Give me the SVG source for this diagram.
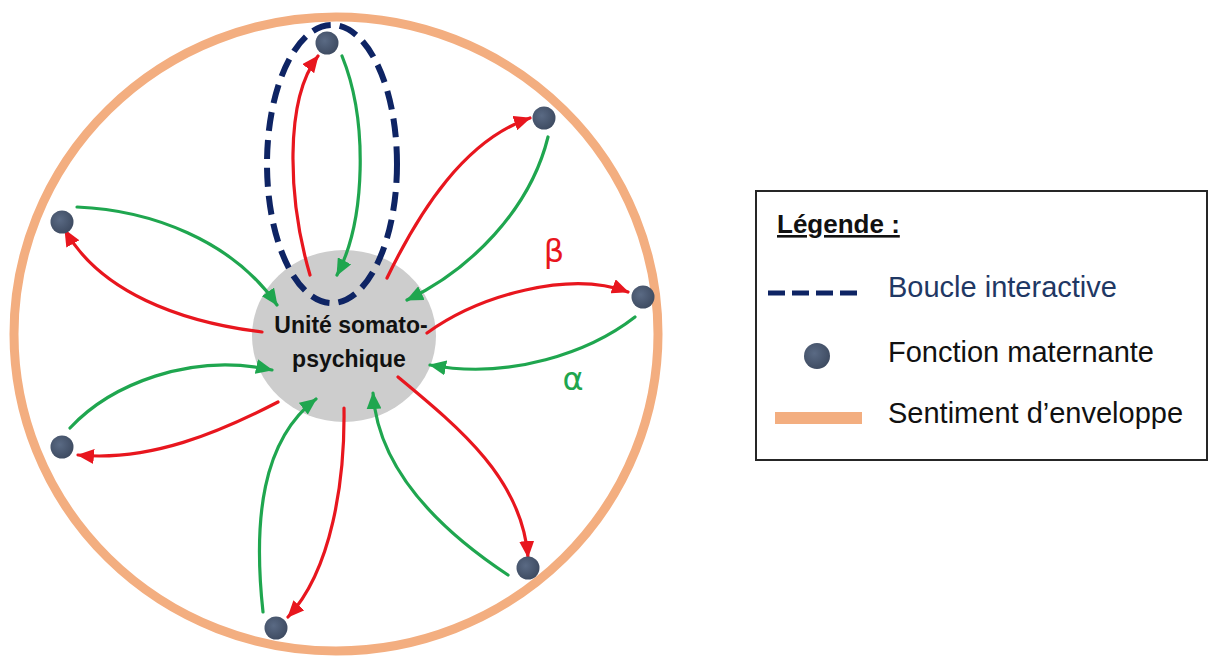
<svg xmlns="http://www.w3.org/2000/svg" width="1209" height="657" viewBox="0 0 1209 657">
  <style>
    .red { fill: none; stroke: #E8161E; stroke-width: 3.2; stroke-linecap: round; marker-end: url(#ahRed); }
    .green { fill: none; stroke: #1FA64F; stroke-width: 3.2; stroke-linecap: round; marker-end: url(#ahGreen); }
    .dot { fill: url(#dotGrad); }
    .lbl { font-family: "Liberation Sans", Arial, sans-serif; font-size: 29px; fill: #111111; }
    .center { font-family: "Liberation Sans", Arial, sans-serif; font-size: 23px; font-weight: bold; fill: #111111; text-anchor: middle; }
  </style>
  <defs>
    <radialGradient id="dotGrad" cx="0.4" cy="0.4" r="0.65">
      <stop offset="0" stop-color="#5A6A84"/>
      <stop offset="1" stop-color="#3D4A60"/>
    </radialGradient>
    <marker id="ahRed" markerUnits="userSpaceOnUse" markerWidth="17" markerHeight="15" refX="16" refY="7.5" orient="auto">
      <path d="M0,0 L17,7.5 L0,15 z" fill="#E8161E"/>
    </marker>
    <marker id="ahGreen" markerUnits="userSpaceOnUse" markerWidth="17" markerHeight="15" refX="16" refY="7.5" orient="auto">
      <path d="M0,0 L17,7.5 L0,15 z" fill="#1FA64F"/>
    </marker>
  </defs>

  <rect x="0" y="0" width="1209" height="657" fill="#FFFFFF"/>

  <g id="envelope">
    <ellipse cx="336" cy="334" rx="322" ry="317" fill="none" stroke="#F3AE80" stroke-width="9"/>
  </g>

  <g id="unite">
    <ellipse cx="344" cy="336" rx="92" ry="86" fill="#CDCDCD"/>
  </g>

  <g id="boucle">
    <ellipse cx="332" cy="164" rx="65" ry="139" fill="none" stroke="#0E2464" stroke-width="6" stroke-dasharray="19 9"/>
  </g>

  <g id="connectors">
    <!-- top -->
    <path class="red" d="M310,275 C288,200 284,100 318,56"/>
    <path class="green" d="M342,56 C368,120 366,220 337,275"/>
    <!-- upper right -->
    <path class="red" d="M387,278 C420,210 465,140 530,118"/>
    <path class="green" d="M548,137 C530,210 470,270 407,300"/>
    <!-- right -->
    <path class="red" d="M427,333 C480,295 570,270 628,292"/>
    <path class="green" d="M635,317 C590,352 510,380 430,365"/>
    <!-- lower right -->
    <path class="red" d="M398,377 C462,430 522,480 528,557"/>
    <path class="green" d="M508,575 C440,530 378,470 373,393"/>
    <!-- bottom -->
    <path class="red" d="M344,408 C345,480 332,570 288,617"/>
    <path class="green" d="M263,612 C253,520 262,440 316,399"/>
    <!-- lower left -->
    <path class="green" d="M70,428 C110,385 190,352 272,370"/>
    <path class="red" d="M278,402 C220,432 150,462 78,455"/>
    <!-- upper left -->
    <path class="green" d="M77,207 C150,210 232,240 277,305"/>
    <path class="red" d="M262,332 C180,322 100,292 65,230"/>
  </g>

  <g id="fonction-top"><circle class="dot" cx="327" cy="43" r="11.5"/></g>
  <g id="fonction-upper-right"><circle class="dot" cx="544" cy="118" r="11.5"/></g>
  <g id="fonction-right"><circle class="dot" cx="643" cy="297" r="11.5"/></g>
  <g id="fonction-lower-right"><circle class="dot" cx="528" cy="568" r="11.5"/></g>
  <g id="fonction-bottom"><circle class="dot" cx="276" cy="628" r="11.5"/></g>
  <g id="fonction-lower-left"><circle class="dot" cx="62" cy="447" r="11.5"/></g>
  <g id="fonction-upper-left"><circle class="dot" cx="62" cy="222" r="11.5"/></g>

  <g id="unite-label">
    <text class="center" x="351" y="333">Unité somato-</text>
    <text class="center" x="349" y="367">psychique</text>
  </g>

  <g id="greek">
    <text x="554" y="262" font-family="'DejaVu Sans', 'Liberation Sans', sans-serif" font-size="32" fill="#E8161E" text-anchor="middle">β</text>
    <text x="573" y="390" font-family="'DejaVu Sans', 'Liberation Sans', sans-serif" font-size="32" fill="#1FA64F" text-anchor="middle">α</text>
  </g>

  <g id="legende">
    <rect x="756" y="191" width="451" height="269" fill="#FFFFFF" stroke="#262626" stroke-width="2"/>
    <text x="777" y="233" font-family="'Liberation Sans', Arial, sans-serif" font-size="26" font-weight="bold" fill="#111111" text-decoration="underline">Légende :</text>
    <line x1="768" y1="293" x2="857" y2="293" stroke="#0E2464" stroke-width="5" stroke-dasharray="17 7"/>
    <text class="lbl" x="888" y="297" style="fill:#1F3864">Boucle interactive</text>
    <circle class="dot" cx="817" cy="356" r="13"/>
    <text class="lbl" x="888" y="362">Fonction maternante</text>
    <rect x="775" y="412" width="87" height="12" fill="#F3AE80"/>
    <text class="lbl" x="888" y="423">Sentiment d’enveloppe</text>
  </g>
</svg>
